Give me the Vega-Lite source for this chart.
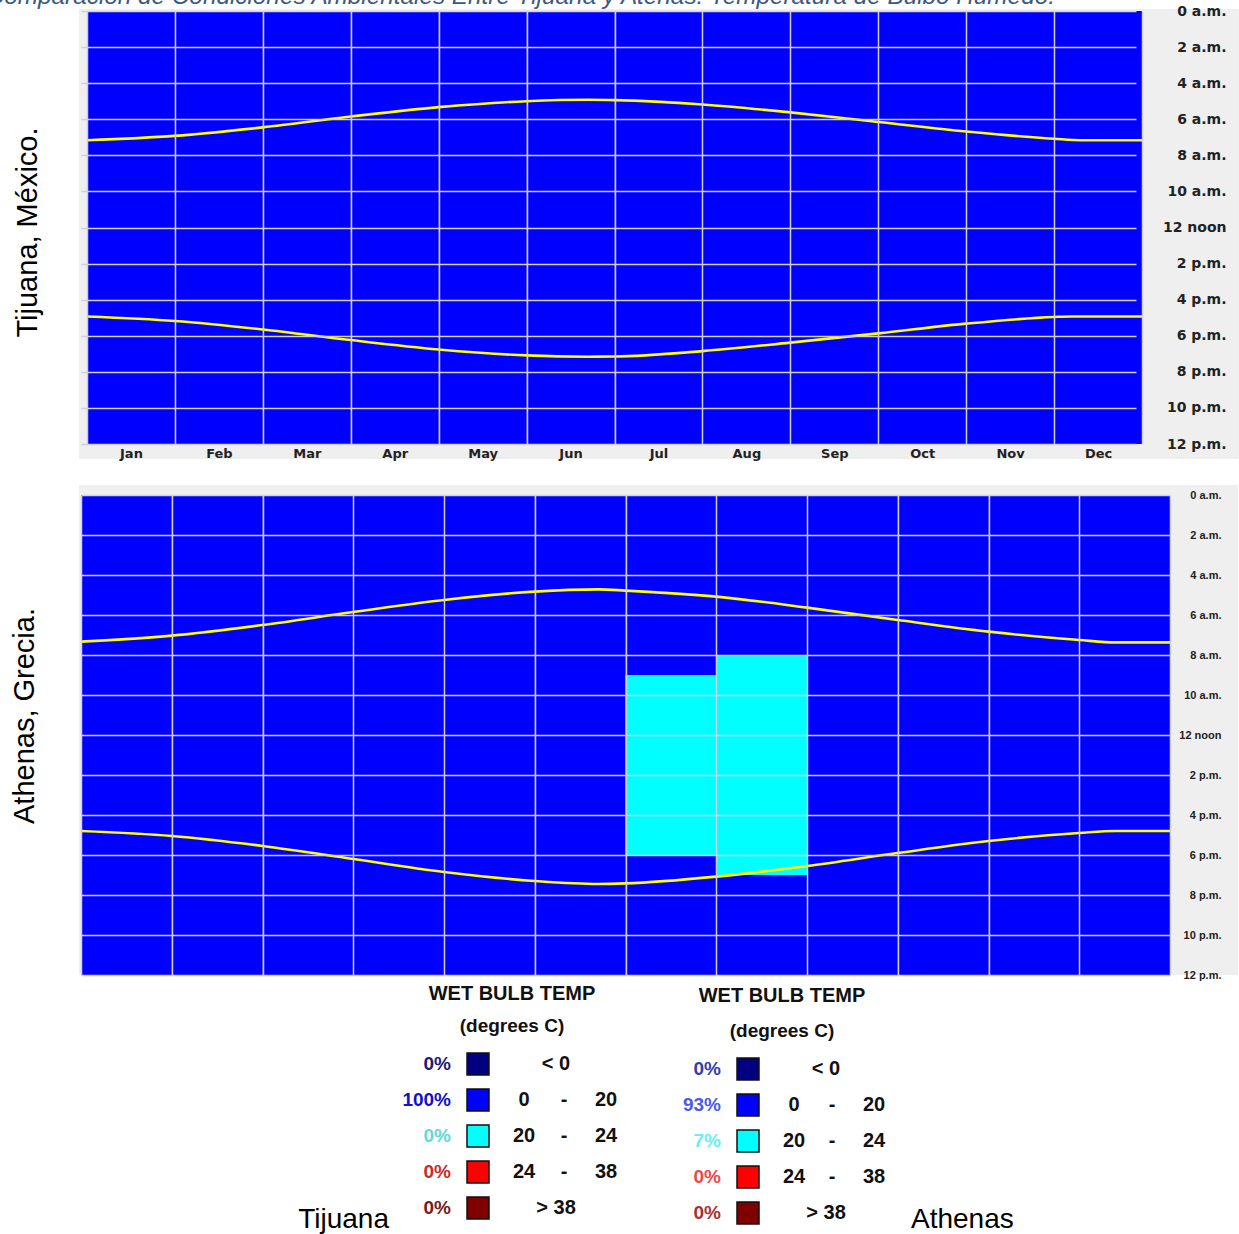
{
  "$schema": "https://vega.github.io/schema/vega-lite/v6.json",
  "padding": {"left": -14, "top": -16, "right": 0, "bottom": 0},
  "background": "#ffffff",
  "title": {"text": "Comparación de Condiciones Ambientales Entre Tijuana y Atenas: Temperatura de Bulbo Húmedo.", "anchor": "start", "frame": "bounds", "font": "Liberation Sans", "fontSize": 24.3, "fontStyle": "italic", "fontWeight": "normal", "color": "#3c5a80", "offset": -24, "baseline": "alphabetic", "dx": -24},
  "config": {"view": {"stroke": null}},
  "datasets": {
    "one": [{}],
    "tijHeat": [
      {"month": "Jan", "start": 0, "end": 24, "cat": "0 - 20"},
      {"month": "Feb", "start": 0, "end": 24, "cat": "0 - 20"},
      {"month": "Mar", "start": 0, "end": 24, "cat": "0 - 20"},
      {"month": "Apr", "start": 0, "end": 24, "cat": "0 - 20"},
      {"month": "May", "start": 0, "end": 24, "cat": "0 - 20"},
      {"month": "Jun", "start": 0, "end": 24, "cat": "0 - 20"},
      {"month": "Jul", "start": 0, "end": 24, "cat": "0 - 20"},
      {"month": "Aug", "start": 0, "end": 24, "cat": "0 - 20"},
      {"month": "Sep", "start": 0, "end": 24, "cat": "0 - 20"},
      {"month": "Oct", "start": 0, "end": 24, "cat": "0 - 20"},
      {"month": "Nov", "start": 0, "end": 24, "cat": "0 - 20"},
      {"month": "Dec", "start": 0, "end": 24, "cat": "0 - 20"}
    ],
    "athHeat": [
      {"month": "Jan", "start": 0, "end": 24, "cat": "0 - 20"},
      {"month": "Feb", "start": 0, "end": 24, "cat": "0 - 20"},
      {"month": "Mar", "start": 0, "end": 24, "cat": "0 - 20"},
      {"month": "Apr", "start": 0, "end": 24, "cat": "0 - 20"},
      {"month": "May", "start": 0, "end": 24, "cat": "0 - 20"},
      {"month": "Jun", "start": 0, "end": 24, "cat": "0 - 20"},
      {"month": "Jul", "start": 0, "end": 9, "cat": "0 - 20"},
      {"month": "Jul", "start": 9, "end": 18, "cat": "20 - 24"},
      {"month": "Jul", "start": 18, "end": 24, "cat": "0 - 20"},
      {"month": "Aug", "start": 0, "end": 8, "cat": "0 - 20"},
      {"month": "Aug", "start": 8, "end": 19, "cat": "20 - 24"},
      {"month": "Aug", "start": 19, "end": 24, "cat": "0 - 20"},
      {"month": "Sep", "start": 0, "end": 24, "cat": "0 - 20"},
      {"month": "Oct", "start": 0, "end": 24, "cat": "0 - 20"},
      {"month": "Nov", "start": 0, "end": 24, "cat": "0 - 20"},
      {"month": "Dec", "start": 0, "end": 24, "cat": "0 - 20"}
    ],
    "tijSun": [
      {"kind": "sunrise", "m": 0, "t": 7.16}, {"kind": "sunrise", "m": 1, "t": 6.92}, {"kind": "sunrise", "m": 2, "t": 6.45},
      {"kind": "sunrise", "m": 3, "t": 5.85}, {"kind": "sunrise", "m": 4, "t": 5.33}, {"kind": "sunrise", "m": 5, "t": 5.0},
      {"kind": "sunrise", "m": 5.7, "t": 4.92}, {"kind": "sunrise", "m": 6, "t": 4.94}, {"kind": "sunrise", "m": 7, "t": 5.18},
      {"kind": "sunrise", "m": 8, "t": 5.62}, {"kind": "sunrise", "m": 9, "t": 6.15}, {"kind": "sunrise", "m": 10, "t": 6.68},
      {"kind": "sunrise", "m": 11, "t": 7.08}, {"kind": "sunrise", "m": 11.3, "t": 7.16}, {"kind": "sunrise", "m": 12, "t": 7.16},
      {"kind": "sunset", "m": 0, "t": 16.93}, {"kind": "sunset", "m": 1, "t": 17.18}, {"kind": "sunset", "m": 2, "t": 17.65},
      {"kind": "sunset", "m": 3, "t": 18.24}, {"kind": "sunset", "m": 4, "t": 18.76}, {"kind": "sunset", "m": 5, "t": 19.09},
      {"kind": "sunset", "m": 5.7, "t": 19.16}, {"kind": "sunset", "m": 6, "t": 19.15}, {"kind": "sunset", "m": 7, "t": 18.85},
      {"kind": "sunset", "m": 8, "t": 18.38}, {"kind": "sunset", "m": 9, "t": 17.87}, {"kind": "sunset", "m": 10, "t": 17.33},
      {"kind": "sunset", "m": 11, "t": 16.96}, {"kind": "sunset", "m": 11.2, "t": 16.93}, {"kind": "sunset", "m": 12, "t": 16.93}
    ],
    "athSun": [
      {"kind": "sunrise", "m": 0, "t": 7.33}, {"kind": "sunrise", "m": 1, "t": 7.03}, {"kind": "sunrise", "m": 2, "t": 6.5},
      {"kind": "sunrise", "m": 3, "t": 5.85}, {"kind": "sunrise", "m": 4, "t": 5.25}, {"kind": "sunrise", "m": 5, "t": 4.83},
      {"kind": "sunrise", "m": 5.7, "t": 4.72}, {"kind": "sunrise", "m": 6, "t": 4.78}, {"kind": "sunrise", "m": 7, "t": 5.08},
      {"kind": "sunrise", "m": 8, "t": 5.63}, {"kind": "sunrise", "m": 9, "t": 6.25}, {"kind": "sunrise", "m": 10, "t": 6.83},
      {"kind": "sunrise", "m": 11, "t": 7.25}, {"kind": "sunrise", "m": 11.4, "t": 7.37}, {"kind": "sunrise", "m": 12, "t": 7.37},
      {"kind": "sunset", "m": 0, "t": 16.8}, {"kind": "sunset", "m": 1, "t": 17.05}, {"kind": "sunset", "m": 2, "t": 17.55},
      {"kind": "sunset", "m": 3, "t": 18.2}, {"kind": "sunset", "m": 4, "t": 18.85}, {"kind": "sunset", "m": 5, "t": 19.3},
      {"kind": "sunset", "m": 5.7, "t": 19.45}, {"kind": "sunset", "m": 6, "t": 19.42}, {"kind": "sunset", "m": 7, "t": 19.08},
      {"kind": "sunset", "m": 8, "t": 18.55}, {"kind": "sunset", "m": 9, "t": 17.9}, {"kind": "sunset", "m": 10, "t": 17.3},
      {"kind": "sunset", "m": 11, "t": 16.9}, {"kind": "sunset", "m": 11.4, "t": 16.8}, {"kind": "sunset", "m": 12, "t": 16.8}
    ],
    "leg": [
      {"panel": "T", "row": 0, "key": "T0", "pct": "0%", "lo": "", "hi": "", "single": "< 0"},
      {"panel": "T", "row": 1, "key": "T1", "pct": "100%", "lo": "0", "hi": "20", "single": ""},
      {"panel": "T", "row": 2, "key": "T2", "pct": "0%", "lo": "20", "hi": "24", "single": ""},
      {"panel": "T", "row": 3, "key": "T3", "pct": "0%", "lo": "24", "hi": "38", "single": ""},
      {"panel": "T", "row": 4, "key": "T4", "pct": "0%", "lo": "", "hi": "", "single": "> 38"},
      {"panel": "A", "row": 0, "key": "A0", "pct": "0%", "lo": "", "hi": "", "single": "< 0"},
      {"panel": "A", "row": 1, "key": "A1", "pct": "93%", "lo": "0", "hi": "20", "single": ""},
      {"panel": "A", "row": 2, "key": "A2", "pct": "7%", "lo": "20", "hi": "24", "single": ""},
      {"panel": "A", "row": 3, "key": "A3", "pct": "0%", "lo": "24", "hi": "38", "single": ""},
      {"panel": "A", "row": 4, "key": "A4", "pct": "0%", "lo": "", "hi": "", "single": "> 38"}
    ]
  },
  "columns": 1,
  "align": "none",
  "spacing": 0,
  "concat": [
    {
      "columns": 1,
      "align": "none",
      "spacing": 25,
      "concat": [
        {
          "width": 1061, "height": 433,
          "title": {"text": "Tijuana, México.", "orient": "left", "anchor": "middle", "font": "Liberation Sans", "fontSize": 29, "fontWeight": "normal", "color": "#000000", "offset": 36, "dx": -5},
          "resolve": {"scale": {"x": "independent"}},
          "layer": [
            {"data": {"name": "one"}, "mark": {"type": "rect", "color": "#efefef"},
             "encoding": {
               "x": {"datum": -0.091, "type": "quantitative", "scale": {"domain": [0, 12], "range": [6, 1061], "nice": false, "zero": false}, "axis": null},
               "x2": {"datum": 13.1},
               "y": {"datum": -0.11, "type": "quantitative", "scale": {"domain": [0, 24], "reverse": true, "nice": false, "zero": false}, "title": null,
                     "axis": {"orient": "right", "title": null, "values": [0,2,4,6,8,10,12,14,16,18,20,22,24], "labelExpr": "datum.value == 12 ? '12 noon' : datum.value < 12 ? datum.value + ' a.m.' : datum.value == 24 ? '12 p.m.' : (datum.value - 12) + ' p.m.'", "grid": true, "gridColor": "#d0d0dc", "gridWidth": 1.5, "domain": false, "ticks": false, "labelAlign": "right", "labelBaseline": "middle", "labelPadding": 84, "labelFont": "DejaVu Sans", "labelFontSize": 14, "labelFontWeight": "bold", "labelColor": "#222222", "labelOverlap": false, "labelFlush": false, "zindex": 1}},
               "y2": {"datum": 24.83}}},
            {"data": {"name": "tijHeat"}, "mark": {"type": "rect"},
             "encoding": {
               "x": {"field": "month", "type": "nominal", "sort": ["Jan","Feb","Mar","Apr","May","Jun","Jul","Aug","Sep","Oct","Nov","Dec"], "scale": {"paddingInner": 0, "paddingOuter": 0, "range": [6, 1061]},
                     "axis": {"orient": "bottom", "title": null, "labelAngle": 0, "domain": false, "ticks": false, "tickBand": "extent", "grid": true, "gridColor": "#d0d0dc", "gridWidth": 1.5, "labelPadding": 3, "labelFont": "DejaVu Sans", "labelFontSize": 13, "labelFontWeight": "bold", "labelColor": "#222222", "zindex": 1}},
               "y": {"field": "start", "type": "quantitative", "scale": {"domain": [0, 24], "reverse": true, "nice": false, "zero": false}, "title": null,
                     "axis": {"orient": "right", "title": null, "values": [0,2,4,6,8,10,12,14,16,18,20,22,24], "labelExpr": "datum.value == 12 ? '12 noon' : datum.value < 12 ? datum.value + ' a.m.' : datum.value == 24 ? '12 p.m.' : (datum.value - 12) + ' p.m.'", "grid": true, "gridColor": "#d0d0dc", "gridWidth": 1.5, "domain": false, "ticks": false, "labelAlign": "right", "labelBaseline": "middle", "labelPadding": 84, "labelFont": "DejaVu Sans", "labelFontSize": 14, "labelFontWeight": "bold", "labelColor": "#222222", "labelOverlap": false, "labelFlush": false, "zindex": 1}},
               "y2": {"field": "end"},
               "color": {"field": "cat", "type": "nominal", "scale": {"domain": ["< 0","0 - 20","20 - 24","24 - 38","> 38"], "range": ["#000080","#0000ff","#00ffff","#ff0000","#800000"]}, "legend": null}}},
            {"data": {"name": "tijSun"}, "mark": {"type": "line", "color": "#ffff00", "strokeWidth": 2.6, "interpolate": "monotone"},
             "encoding": {
               "x": {"field": "m", "type": "quantitative", "scale": {"domain": [0, 12], "range": [6, 1061], "nice": false, "zero": false}, "axis": null},
               "y": {"field": "t", "type": "quantitative", "scale": {"domain": [0, 24], "reverse": true, "nice": false, "zero": false}, "title": null,
                     "axis": {"orient": "right", "title": null, "values": [0,2,4,6,8,10,12,14,16,18,20,22,24], "labelExpr": "datum.value == 12 ? '12 noon' : datum.value < 12 ? datum.value + ' a.m.' : datum.value == 24 ? '12 p.m.' : (datum.value - 12) + ' p.m.'", "grid": true, "gridColor": "#d0d0dc", "gridWidth": 1.5, "domain": false, "ticks": false, "labelAlign": "right", "labelBaseline": "middle", "labelPadding": 84, "labelFont": "DejaVu Sans", "labelFontSize": 14, "labelFontWeight": "bold", "labelColor": "#222222", "labelOverlap": false, "labelFlush": false, "zindex": 1}},
               "detail": {"field": "kind"}}}
          ]
        },
        {
          "width": 1089, "height": 480,
          "title": {"text": "Athenas, Grecia.", "orient": "left", "anchor": "middle", "font": "Liberation Sans", "fontSize": 29, "fontWeight": "normal", "color": "#000000", "offset": 36, "dx": 19},
          "resolve": {"scale": {"x": "independent"}},
          "layer": [
            {"data": {"name": "one"}, "mark": {"type": "rect", "color": "#efefef"},
             "encoding": {
               "x": {"datum": -0.022, "type": "quantitative", "scale": {"domain": [0, 12], "nice": false, "zero": false}, "axis": null},
               "x2": {"datum": 12.75},
               "y": {"datum": -0.5, "type": "quantitative", "scale": {"domain": [0, 24], "reverse": true, "nice": false, "zero": false}, "title": null,
                     "axis": {"orient": "right", "title": null, "values": [0,2,4,6,8,10,12,14,16,18,20,22,24], "labelExpr": "datum.value == 12 ? '12 noon' : datum.value < 12 ? datum.value + ' a.m.' : datum.value == 24 ? '12 p.m.' : (datum.value - 12) + ' p.m.'", "grid": true, "gridColor": "#d0d0dc", "gridWidth": 1.5, "domain": false, "ticks": false, "labelAlign": "right", "labelBaseline": "middle", "labelPadding": 51, "labelFont": "Liberation Sans", "labelFontSize": 11, "labelFontWeight": "bold", "labelColor": "#222222", "labelOverlap": false, "labelFlush": false, "zindex": 1}},
               "y2": {"datum": 24}}},
            {"data": {"name": "athHeat"}, "mark": {"type": "rect"},
             "encoding": {
               "x": {"field": "month", "type": "nominal", "sort": ["Jan","Feb","Mar","Apr","May","Jun","Jul","Aug","Sep","Oct","Nov","Dec"], "scale": {"paddingInner": 0, "paddingOuter": 0},
                     "axis": {"orient": "bottom", "title": null, "labels": false, "domain": false, "ticks": false, "tickBand": "extent", "grid": true, "gridColor": "#d0d0dc", "gridWidth": 1.5, "zindex": 1}},
               "y": {"field": "start", "type": "quantitative", "scale": {"domain": [0, 24], "reverse": true, "nice": false, "zero": false}, "title": null,
                     "axis": {"orient": "right", "title": null, "values": [0,2,4,6,8,10,12,14,16,18,20,22,24], "labelExpr": "datum.value == 12 ? '12 noon' : datum.value < 12 ? datum.value + ' a.m.' : datum.value == 24 ? '12 p.m.' : (datum.value - 12) + ' p.m.'", "grid": true, "gridColor": "#d0d0dc", "gridWidth": 1.5, "domain": false, "ticks": false, "labelAlign": "right", "labelBaseline": "middle", "labelPadding": 51, "labelFont": "Liberation Sans", "labelFontSize": 11, "labelFontWeight": "bold", "labelColor": "#222222", "labelOverlap": false, "labelFlush": false, "zindex": 1}},
               "y2": {"field": "end"},
               "color": {"field": "cat", "type": "nominal", "scale": {"domain": ["< 0","0 - 20","20 - 24","24 - 38","> 38"], "range": ["#000080","#0000ff","#00ffff","#ff0000","#800000"]}, "legend": null}}},
            {"data": {"name": "athSun"}, "mark": {"type": "line", "color": "#ffff00", "strokeWidth": 2.6, "interpolate": "monotone"},
             "encoding": {
               "x": {"field": "m", "type": "quantitative", "scale": {"domain": [0, 12], "nice": false, "zero": false}, "axis": null},
               "y": {"field": "t", "type": "quantitative", "scale": {"domain": [0, 24], "reverse": true, "nice": false, "zero": false}, "title": null,
                     "axis": {"orient": "right", "title": null, "values": [0,2,4,6,8,10,12,14,16,18,20,22,24], "labelExpr": "datum.value == 12 ? '12 noon' : datum.value < 12 ? datum.value + ' a.m.' : datum.value == 24 ? '12 p.m.' : (datum.value - 12) + ' p.m.'", "grid": true, "gridColor": "#d0d0dc", "gridWidth": 1.5, "domain": false, "ticks": false, "labelAlign": "right", "labelBaseline": "middle", "labelPadding": 51, "labelFont": "Liberation Sans", "labelFontSize": 11, "labelFontWeight": "bold", "labelColor": "#222222", "labelOverlap": false, "labelFlush": false, "zindex": 1}},
               "detail": {"field": "kind"}}}
          ]
        }
      ]
    },
    {
      "width": 1157, "height": 255,
      "resolve": {"scale": {"x": "independent", "y": "independent"}},
      "layer": [
        {"data": {"name": "leg"}, "transform": [{"filter": "datum.panel == 'T'"}],
         "mark": {"type": "text", "align": "right", "baseline": "middle", "font": "Liberation Sans", "fontSize": 19, "fontWeight": "bold"},
         "encoding": {"x": {"datum": 442, "type": "quantitative", "scale": {"domain": [72, 1229], "nice": false, "zero": false}, "axis": null},
           "y": {"field": "row", "type": "quantitative", "scale": {"domain": [-2.333, 4.75], "reverse": true, "nice": false, "zero": false}, "axis": null},
           "text": {"field": "pct"},
           "fill": {"field": "key", "type": "nominal", "scale": {"domain": ["T0","T1","T2","T3","T4","A0","A1","A2","A3","A4"], "range": ["#1a1a7a","#1010d0","#60dada","#cc2a2a","#7a1a1a","#3040a8","#4a5af0","#66f0f0","#f04848","#a83030"]}, "legend": null}}},
        {"data": {"name": "leg"}, "transform": [{"filter": "datum.panel == 'T'"}],
         "mark": {"type": "point", "shape": "square", "size": 484, "filled": true, "opacity": 1, "stroke": "#111111", "strokeWidth": 1.5},
         "encoding": {"x": {"datum": 469, "type": "quantitative", "scale": {"domain": [72, 1229], "nice": false, "zero": false}, "axis": null},
           "y": {"field": "row", "type": "quantitative", "scale": {"domain": [-2.333, 4.75], "reverse": true, "nice": false, "zero": false}, "axis": null},
           "color": {"field": "key", "type": "nominal", "scale": {"domain": ["T0","T1","T2","T3","T4","A0","A1","A2","A3","A4"], "range": ["#000080","#0000ff","#00ffff","#ff0000","#800000","#0a2a96","#2040ff","#66ffff","#ee3333","#a02020"]}, "legend": null}}},
        {"data": {"name": "leg"}, "transform": [{"filter": "datum.panel == 'T'"}],
         "mark": {"type": "text", "align": "center", "baseline": "middle", "font": "Liberation Sans", "fontSize": 20, "fontWeight": "bold", "color": "#111111", "letterSpacing": 1.5},
         "encoding": {"x": {"datum": 515, "type": "quantitative", "scale": {"domain": [72, 1229], "nice": false, "zero": false}, "axis": null},
           "y": {"field": "row", "type": "quantitative", "scale": {"domain": [-2.333, 4.75], "reverse": true, "nice": false, "zero": false}, "axis": null},
           "text": {"field": "lo"}}},
        {"data": {"name": "leg"}, "transform": [{"filter": "datum.panel == 'T' && datum.hi != ''"}],
         "mark": {"type": "text", "text": "-", "align": "center", "baseline": "middle", "font": "Liberation Sans", "fontSize": 20, "fontWeight": "bold", "color": "#111111"},
         "encoding": {"x": {"datum": 555, "type": "quantitative", "scale": {"domain": [72, 1229], "nice": false, "zero": false}, "axis": null},
           "y": {"field": "row", "type": "quantitative", "scale": {"domain": [-2.333, 4.75], "reverse": true, "nice": false, "zero": false}, "axis": null}}},
        {"data": {"name": "leg"}, "transform": [{"filter": "datum.panel == 'T'"}],
         "mark": {"type": "text", "align": "center", "baseline": "middle", "font": "Liberation Sans", "fontSize": 20, "fontWeight": "bold", "color": "#111111", "letterSpacing": 1.5},
         "encoding": {"x": {"datum": 597, "type": "quantitative", "scale": {"domain": [72, 1229], "nice": false, "zero": false}, "axis": null},
           "y": {"field": "row", "type": "quantitative", "scale": {"domain": [-2.333, 4.75], "reverse": true, "nice": false, "zero": false}, "axis": null},
           "text": {"field": "hi"}}},
        {"data": {"name": "leg"}, "transform": [{"filter": "datum.panel == 'T'"}],
         "mark": {"type": "text", "align": "center", "baseline": "middle", "font": "Liberation Sans", "fontSize": 20, "fontWeight": "bold", "color": "#111111", "letterSpacing": 1},
         "encoding": {"x": {"datum": 547, "type": "quantitative", "scale": {"domain": [72, 1229], "nice": false, "zero": false}, "axis": null},
           "y": {"field": "row", "type": "quantitative", "scale": {"domain": [-2.333, 4.75], "reverse": true, "nice": false, "zero": false}, "axis": null},
           "text": {"field": "single"}}},
        {"data": {"name": "one"},
         "mark": {"type": "text", "text": "WET BULB TEMP", "align": "center", "baseline": "middle", "font": "Liberation Sans", "fontSize": 20, "fontWeight": "bold", "color": "#111111", "letterSpacing": -1.5},
         "encoding": {"x": {"datum": 503, "type": "quantitative", "scale": {"domain": [72, 1229], "nice": false, "zero": false}, "axis": null},
           "y": {"datum": -1.944, "type": "quantitative", "scale": {"domain": [-2.333, 4.75], "reverse": true, "nice": false, "zero": false}, "axis": null}}},
        {"data": {"name": "one"},
         "mark": {"type": "text", "text": "(degrees C)", "align": "center", "baseline": "middle", "font": "Liberation Sans", "fontSize": 19, "fontWeight": "bold", "color": "#111111", "letterSpacing": 0.8},
         "encoding": {"x": {"datum": 503, "type": "quantitative", "scale": {"domain": [72, 1229], "nice": false, "zero": false}, "axis": null},
           "y": {"datum": -1.056, "type": "quantitative", "scale": {"domain": [-2.333, 4.75], "reverse": true, "nice": false, "zero": false}, "axis": null}}},
        {"data": {"name": "one"},
         "mark": {"type": "text", "text": "Tijuana", "align": "right", "baseline": "middle", "font": "Liberation Sans", "fontSize": 28, "fontWeight": "normal", "color": "#000000"},
         "encoding": {"x": {"datum": 380, "type": "quantitative", "scale": {"domain": [72, 1229], "nice": false, "zero": false}, "axis": null},
           "y": {"datum": 4.333, "type": "quantitative", "scale": {"domain": [-2.333, 4.75], "reverse": true, "nice": false, "zero": false}, "axis": null}}},

        {"data": {"name": "leg"}, "transform": [{"filter": "datum.panel == 'A'"}],
         "mark": {"type": "text", "align": "right", "baseline": "middle", "font": "Liberation Sans", "fontSize": 19, "fontWeight": "bold"},
         "encoding": {"x": {"datum": 442, "type": "quantitative", "scale": {"domain": [-198, 959], "nice": false, "zero": false}, "axis": null},
           "y": {"field": "row", "type": "quantitative", "scale": {"domain": [-2.472, 4.611], "reverse": true, "nice": false, "zero": false}, "axis": null},
           "text": {"field": "pct"},
           "fill": {"field": "key", "type": "nominal", "scale": {"domain": ["T0","T1","T2","T3","T4","A0","A1","A2","A3","A4"], "range": ["#1a1a7a","#1010d0","#60dada","#cc2a2a","#7a1a1a","#3040a8","#4a5af0","#66f0f0","#f04848","#a83030"]}, "legend": null}}},
        {"data": {"name": "leg"}, "transform": [{"filter": "datum.panel == 'A'"}],
         "mark": {"type": "point", "shape": "square", "size": 484, "filled": true, "opacity": 1, "stroke": "#111111", "strokeWidth": 1.5},
         "encoding": {"x": {"datum": 469, "type": "quantitative", "scale": {"domain": [-198, 959], "nice": false, "zero": false}, "axis": null},
           "y": {"field": "row", "type": "quantitative", "scale": {"domain": [-2.472, 4.611], "reverse": true, "nice": false, "zero": false}, "axis": null},
           "color": {"field": "key", "type": "nominal", "scale": {"domain": ["T0","T1","T2","T3","T4","A0","A1","A2","A3","A4"], "range": ["#000080","#0000ff","#00ffff","#ff0000","#800000","#0a2a96","#2040ff","#66ffff","#ee3333","#a02020"]}, "legend": null}}},
        {"data": {"name": "leg"}, "transform": [{"filter": "datum.panel == 'A'"}],
         "mark": {"type": "text", "align": "center", "baseline": "middle", "font": "Liberation Sans", "fontSize": 20, "fontWeight": "bold", "color": "#111111", "letterSpacing": 1.5},
         "encoding": {"x": {"datum": 515, "type": "quantitative", "scale": {"domain": [-198, 959], "nice": false, "zero": false}, "axis": null},
           "y": {"field": "row", "type": "quantitative", "scale": {"domain": [-2.472, 4.611], "reverse": true, "nice": false, "zero": false}, "axis": null},
           "text": {"field": "lo"}}},
        {"data": {"name": "leg"}, "transform": [{"filter": "datum.panel == 'A' && datum.hi != ''"}],
         "mark": {"type": "text", "text": "-", "align": "center", "baseline": "middle", "font": "Liberation Sans", "fontSize": 20, "fontWeight": "bold", "color": "#111111"},
         "encoding": {"x": {"datum": 553, "type": "quantitative", "scale": {"domain": [-198, 959], "nice": false, "zero": false}, "axis": null},
           "y": {"field": "row", "type": "quantitative", "scale": {"domain": [-2.472, 4.611], "reverse": true, "nice": false, "zero": false}, "axis": null}}},
        {"data": {"name": "leg"}, "transform": [{"filter": "datum.panel == 'A'"}],
         "mark": {"type": "text", "align": "center", "baseline": "middle", "font": "Liberation Sans", "fontSize": 20, "fontWeight": "bold", "color": "#111111", "letterSpacing": 1.5},
         "encoding": {"x": {"datum": 595, "type": "quantitative", "scale": {"domain": [-198, 959], "nice": false, "zero": false}, "axis": null},
           "y": {"field": "row", "type": "quantitative", "scale": {"domain": [-2.472, 4.611], "reverse": true, "nice": false, "zero": false}, "axis": null},
           "text": {"field": "hi"}}},
        {"data": {"name": "leg"}, "transform": [{"filter": "datum.panel == 'A'"}],
         "mark": {"type": "text", "align": "center", "baseline": "middle", "font": "Liberation Sans", "fontSize": 20, "fontWeight": "bold", "color": "#111111", "letterSpacing": 1},
         "encoding": {"x": {"datum": 547, "type": "quantitative", "scale": {"domain": [-198, 959], "nice": false, "zero": false}, "axis": null},
           "y": {"field": "row", "type": "quantitative", "scale": {"domain": [-2.472, 4.611], "reverse": true, "nice": false, "zero": false}, "axis": null},
           "text": {"field": "single"}}},
        {"data": {"name": "one"},
         "mark": {"type": "text", "text": "WET BULB TEMP", "align": "center", "baseline": "middle", "font": "Liberation Sans", "fontSize": 20, "fontWeight": "bold", "color": "#111111", "letterSpacing": -1.5},
         "encoding": {"x": {"datum": 503, "type": "quantitative", "scale": {"domain": [-198, 959], "nice": false, "zero": false}, "axis": null},
           "y": {"datum": -2.028, "type": "quantitative", "scale": {"domain": [-2.472, 4.611], "reverse": true, "nice": false, "zero": false}, "axis": null}}},
        {"data": {"name": "one"},
         "mark": {"type": "text", "text": "(degrees C)", "align": "center", "baseline": "middle", "font": "Liberation Sans", "fontSize": 19, "fontWeight": "bold", "color": "#111111", "letterSpacing": 0.8},
         "encoding": {"x": {"datum": 503, "type": "quantitative", "scale": {"domain": [-198, 959], "nice": false, "zero": false}, "axis": null},
           "y": {"datum": -1.056, "type": "quantitative", "scale": {"domain": [-2.472, 4.611], "reverse": true, "nice": false, "zero": false}, "axis": null}}},
        {"data": {"name": "one"},
         "mark": {"type": "text", "text": "Athenas", "align": "left", "baseline": "middle", "font": "Liberation Sans", "fontSize": 28, "fontWeight": "normal", "color": "#000000"},
         "encoding": {"x": {"datum": 632, "type": "quantitative", "scale": {"domain": [-198, 959], "nice": false, "zero": false}, "axis": null},
           "y": {"datum": 4.194, "type": "quantitative", "scale": {"domain": [-2.472, 4.611], "reverse": true, "nice": false, "zero": false}, "axis": null}}}
      ]
    }
  ]
}
